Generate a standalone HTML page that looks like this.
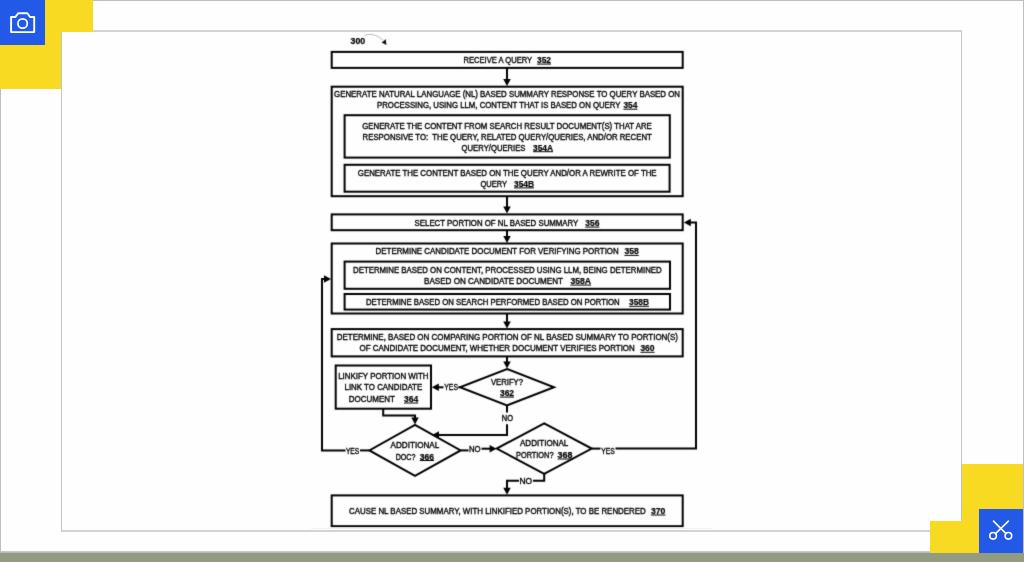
<!DOCTYPE html>
<html><head><meta charset="utf-8"><title>Flowchart</title>
<style>
html,body{margin:0;padding:0;}
body{width:1024px;height:562px;overflow:hidden;position:relative;background:#fefefe;font-family:"Liberation Sans",sans-serif;}
.abs{position:absolute;}
#outer{position:absolute;left:0;top:0;width:1022px;height:550px;border:1px solid #bebebe;border-bottom:1px solid #c9c9c9;background:#fefefe;}
#inner{position:absolute;left:61px;top:30px;width:899px;height:498px;border-style:solid;border-color:#d3d3d3 #c4c4c4;border-width:2px 1px;background:#fefefe;}
#band{position:absolute;left:0;top:553px;width:1024px;height:9px;background:#929c80;}
</style></head>
<body>
<div id="outer"></div>
<div class="abs" style="left:0;top:552px;width:1024px;height:1px;background:#b3b8cc"></div>
<div id="inner"></div>
<div class="abs" style="left:0;top:0;width:93px;height:32px;background:#f9da22"></div>
<div class="abs" style="left:0;top:0;width:61px;height:88.5px;background:#f9da22"></div>
<div class="abs" style="left:0;top:0;width:45px;height:45px;background:#2259e6"></div>
<svg width="45" height="45" viewBox="0 0 45 45" style="position:absolute;left:0;top:0">
<path d="M11.1,17 H15.4 L18.2,13.2 H27.4 L30.0,17 H34.2 V32.1 H11.1 Z" fill="none" stroke="#fff" stroke-width="1.9" stroke-linejoin="round"/>
<circle cx="22.6" cy="23.5" r="4.7" fill="none" stroke="#fff" stroke-width="1.7"/>
</svg>
<div class="abs" style="left:962px;top:464px;width:61px;height:89px;background:#f9da22"></div>
<div class="abs" style="left:930px;top:521px;width:49px;height:32px;background:#f9da22"></div>
<div class="abs" style="left:979px;top:509px;width:44px;height:44px;background:#2259e6"></div>
<svg width="44" height="44" viewBox="0 0 44 44" style="position:absolute;left:979px;top:509px">
<line x1="14.5" y1="12.1" x2="27.0" y2="24.6" stroke="#fff" stroke-width="1.5" stroke-linecap="round"/>
<line x1="29.4" y1="12.1" x2="16.5" y2="24.6" stroke="#fff" stroke-width="1.5" stroke-linecap="round"/>
<circle cx="14.1" cy="26.8" r="3.3" fill="none" stroke="#fff" stroke-width="1.6"/>
<circle cx="29.4" cy="26.8" r="3.3" fill="none" stroke="#fff" stroke-width="1.6"/>
</svg>
<div id="band"></div>
<div class="abs" style="left:0;top:0;width:1024px;height:562px;filter:grayscale(1)">
<svg width="1024" height="562" viewBox="0 0 1024 562" font-family="'Liberation Sans', sans-serif" fill="#000" style="display:block"><defs><filter id="bl" x="0" y="0" width="1024" height="562" filterUnits="userSpaceOnUse"><feConvolveMatrix order="3" kernelMatrix="0.02 0.08 0.02 0.08 0.60 0.08 0.02 0.08 0.02" divisor="1" edgeMode="none"/></filter></defs><g filter="url(#bl)">
<rect x="331.70" y="51.90" width="351.00" height="16.00" fill="none" stroke="#000" stroke-width="2.0"/>
<rect x="331.70" y="86.70" width="351.00" height="109.50" fill="none" stroke="#000" stroke-width="2.0"/>
<rect x="344.60" y="115.20" width="325.20" height="42.40" fill="none" stroke="#000" stroke-width="2.0"/>
<rect x="344.60" y="164.80" width="325.00" height="26.90" fill="none" stroke="#000" stroke-width="2.0"/>
<rect x="331.70" y="214.40" width="351.00" height="15.80" fill="none" stroke="#000" stroke-width="2.0"/>
<rect x="331.70" y="243.50" width="351.00" height="70.00" fill="none" stroke="#000" stroke-width="2.0"/>
<rect x="344.60" y="261.60" width="325.40" height="27.20" fill="none" stroke="#000" stroke-width="2.0"/>
<rect x="344.60" y="294.00" width="325.40" height="15.60" fill="none" stroke="#000" stroke-width="2.0"/>
<rect x="331.70" y="329.10" width="351.00" height="27.30" fill="none" stroke="#000" stroke-width="2.0"/>
<rect x="335.70" y="365.50" width="95.30" height="43.20" fill="none" stroke="#000" stroke-width="2.0"/>
<rect x="331.70" y="495.40" width="351.00" height="30.80" fill="none" stroke="#000" stroke-width="2.0"/>
<polygon points="507.00,369.00 554.00,387.20 507.00,405.40 460.00,387.20" fill="none" stroke="#000" stroke-width="2.0" stroke-linejoin="miter"/>
<polygon points="415.00,424.90 460.60,450.40 415.00,475.90 369.40,450.40" fill="none" stroke="#000" stroke-width="2.0" stroke-linejoin="miter"/>
<polygon points="544.20,423.30 591.70,448.60 544.20,473.90 496.70,448.60" fill="none" stroke="#000" stroke-width="2.0" stroke-linejoin="miter"/>
<polyline points="507.00,67.80 507.00,81.70" fill="none" stroke="#000" stroke-width="2.0" stroke-linejoin="miter"/>
<polygon points="507.00,86.10 503.25,79.10 510.75,79.10" fill="#000"/>
<polyline points="507.00,196.20 507.00,209.00" fill="none" stroke="#000" stroke-width="2.0" stroke-linejoin="miter"/>
<polygon points="507.00,213.40 503.25,206.40 510.75,206.40" fill="#000"/>
<polyline points="507.00,229.90 507.00,238.50" fill="none" stroke="#000" stroke-width="2.0" stroke-linejoin="miter"/>
<polygon points="507.00,242.90 503.25,235.90 510.75,235.90" fill="#000"/>
<polyline points="507.00,313.50 507.00,324.10" fill="none" stroke="#000" stroke-width="2.0" stroke-linejoin="miter"/>
<polygon points="507.00,328.50 503.25,321.50 510.75,321.50" fill="#000"/>
<polyline points="507.00,356.40 507.00,364.00" fill="none" stroke="#000" stroke-width="2.0" stroke-linejoin="miter"/>
<polygon points="507.00,368.40 503.25,361.40 510.75,361.40" fill="#000"/>
<polyline points="459.90,387.30 458.50,387.30" fill="none" stroke="#000" stroke-width="2.0" stroke-linejoin="miter"/>
<polyline points="443.50,387.30 436.00,387.30" fill="none" stroke="#000" stroke-width="2.0" stroke-linejoin="miter"/>
<polygon points="431.80,387.30 438.80,383.55 438.80,391.05" fill="#000"/>
<polyline points="507.00,405.40 507.00,412.50" fill="none" stroke="#000" stroke-width="2.0" stroke-linejoin="miter"/>
<polyline points="507.00,424.30 507.00,435.00 437.00,435.00" fill="none" stroke="#000" stroke-width="2.0" stroke-linejoin="miter"/>
<polygon points="432.00,435.00 439.00,431.25 439.00,438.75" fill="#000"/>
<polyline points="383.20,408.70 383.20,415.40 415.00,415.40 415.00,420.00" fill="none" stroke="#000" stroke-width="2.0" stroke-linejoin="miter"/>
<polygon points="415.00,424.60 411.25,417.60 418.75,417.60" fill="#000"/>
<polyline points="369.40,450.40 360.00,450.40" fill="none" stroke="#000" stroke-width="2.0" stroke-linejoin="miter"/>
<polyline points="345.50,450.40 322.00,450.40 322.00,279.00 326.00,279.00" fill="none" stroke="#000" stroke-width="2.0" stroke-linejoin="miter"/>
<polygon points="331.00,279.00 324.00,275.25 324.00,282.75" fill="#000"/>
<polyline points="460.60,450.40 468.50,450.40" fill="none" stroke="#000" stroke-width="2.0" stroke-linejoin="miter"/>
<polyline points="481.50,448.70 491.00,448.70" fill="none" stroke="#000" stroke-width="2.0" stroke-linejoin="miter"/>
<polygon points="496.60,448.70 489.60,444.95 489.60,452.45" fill="#000"/>
<polyline points="591.70,448.60 600.50,448.60" fill="none" stroke="#000" stroke-width="2.0" stroke-linejoin="miter"/>
<polyline points="615.50,448.60 696.00,448.60 696.00,222.50 689.00,222.50" fill="none" stroke="#000" stroke-width="2.0" stroke-linejoin="miter"/>
<polygon points="683.80,222.50 690.80,218.75 690.80,226.25" fill="#000"/>
<polyline points="544.20,473.90 544.20,480.70 533.00,480.70" fill="none" stroke="#000" stroke-width="2.0" stroke-linejoin="miter"/>
<polyline points="519.00,480.70 507.00,480.70 507.00,489.00" fill="none" stroke="#000" stroke-width="2.0" stroke-linejoin="miter"/>
<polygon points="507.00,494.80 503.25,487.80 510.75,487.80" fill="#000"/>
<text xml:space="preserve" stroke="#000" stroke-width="0.4" x="463.40" y="63.10" textLength="68.80" lengthAdjust="spacingAndGlyphs" font-weight="normal" font-size="9.3">RECEIVE A QUERY</text>
<text xml:space="preserve" stroke="#000" stroke-width="0.25" x="537.00" y="63.10" textLength="14.00" lengthAdjust="spacingAndGlyphs" font-weight="bold" font-size="9.3">352</text>
<line x1="537.00" y1="64.10" x2="551.00" y2="64.10" stroke="#000" stroke-width="1.0"/>
<text xml:space="preserve" stroke="#000" stroke-width="0.4" x="334.10" y="97.20" textLength="345.90" lengthAdjust="spacingAndGlyphs" font-weight="normal" font-size="9.3">GENERATE NATURAL LANGUAGE (NL) BASED SUMMARY RESPONSE TO QUERY BASED ON</text>
<text xml:space="preserve" stroke="#000" stroke-width="0.4" x="377.00" y="108.20" textLength="243.50" lengthAdjust="spacingAndGlyphs" font-weight="normal" font-size="9.3">PROCESSING, USING LLM, CONTENT THAT IS BASED ON QUERY</text>
<text xml:space="preserve" stroke="#000" stroke-width="0.25" x="623.40" y="108.20" textLength="14.00" lengthAdjust="spacingAndGlyphs" font-weight="bold" font-size="9.3">354</text>
<line x1="623.40" y1="109.20" x2="637.40" y2="109.20" stroke="#000" stroke-width="1.0"/>
<text xml:space="preserve" stroke="#000" stroke-width="0.4" x="362.20" y="128.50" textLength="289.60" lengthAdjust="spacingAndGlyphs" font-weight="normal" font-size="9.3">GENERATE THE CONTENT FROM SEARCH RESULT DOCUMENT(S) THAT ARE</text>
<text xml:space="preserve" stroke="#000" stroke-width="0.4" x="362.60" y="139.70" textLength="289.20" lengthAdjust="spacingAndGlyphs" font-weight="normal" font-size="9.3">RESPONSIVE TO:  THE QUERY, RELATED QUERY/QUERIES, AND/OR RECENT</text>
<text xml:space="preserve" stroke="#000" stroke-width="0.4" x="461.60" y="150.70" textLength="63.90" lengthAdjust="spacingAndGlyphs" font-weight="normal" font-size="9.3">QUERY/QUERIES</text>
<text xml:space="preserve" stroke="#000" stroke-width="0.25" x="533.00" y="150.70" textLength="20.00" lengthAdjust="spacingAndGlyphs" font-weight="bold" font-size="9.3">354A</text>
<line x1="533.00" y1="151.70" x2="553.00" y2="151.70" stroke="#000" stroke-width="1.0"/>
<text xml:space="preserve" stroke="#000" stroke-width="0.4" x="357.80" y="175.70" textLength="298.80" lengthAdjust="spacingAndGlyphs" font-weight="normal" font-size="9.3">GENERATE THE CONTENT BASED ON THE QUERY AND/OR A REWRITE OF THE</text>
<text xml:space="preserve" stroke="#000" stroke-width="0.4" x="480.40" y="186.90" textLength="26.60" lengthAdjust="spacingAndGlyphs" font-weight="normal" font-size="9.3">QUERY</text>
<text xml:space="preserve" stroke="#000" stroke-width="0.25" x="514.00" y="186.90" textLength="20.10" lengthAdjust="spacingAndGlyphs" font-weight="bold" font-size="9.3">354B</text>
<line x1="514.00" y1="187.90" x2="534.10" y2="187.90" stroke="#000" stroke-width="1.0"/>
<text xml:space="preserve" stroke="#000" stroke-width="0.4" x="414.60" y="226.10" textLength="163.70" lengthAdjust="spacingAndGlyphs" font-weight="normal" font-size="9.3">SELECT PORTION OF NL BASED SUMMARY</text>
<text xml:space="preserve" stroke="#000" stroke-width="0.25" x="585.20" y="226.10" textLength="14.20" lengthAdjust="spacingAndGlyphs" font-weight="bold" font-size="9.3">356</text>
<line x1="585.20" y1="227.10" x2="599.40" y2="227.10" stroke="#000" stroke-width="1.0"/>
<text xml:space="preserve" stroke="#000" stroke-width="0.4" x="375.60" y="254.40" textLength="243.10" lengthAdjust="spacingAndGlyphs" font-weight="normal" font-size="9.3">DETERMINE CANDIDATE DOCUMENT FOR VERIFYING PORTION</text>
<text xml:space="preserve" stroke="#000" stroke-width="0.25" x="624.40" y="254.40" textLength="14.40" lengthAdjust="spacingAndGlyphs" font-weight="bold" font-size="9.3">358</text>
<line x1="624.40" y1="255.40" x2="638.80" y2="255.40" stroke="#000" stroke-width="1.0"/>
<text xml:space="preserve" stroke="#000" stroke-width="0.4" x="353.00" y="272.70" textLength="308.70" lengthAdjust="spacingAndGlyphs" font-weight="normal" font-size="9.3">DETERMINE BASED ON CONTENT, PROCESSED USING LLM, BEING DETERMINED</text>
<text xml:space="preserve" stroke="#000" stroke-width="0.4" x="424.00" y="284.10" textLength="139.00" lengthAdjust="spacingAndGlyphs" font-weight="normal" font-size="9.3">BASED ON CANDIDATE DOCUMENT</text>
<text xml:space="preserve" stroke="#000" stroke-width="0.25" x="570.40" y="284.10" textLength="20.60" lengthAdjust="spacingAndGlyphs" font-weight="bold" font-size="9.3">358A</text>
<line x1="570.40" y1="285.10" x2="591.00" y2="285.10" stroke="#000" stroke-width="1.0"/>
<text xml:space="preserve" stroke="#000" stroke-width="0.4" x="365.90" y="305.30" textLength="253.80" lengthAdjust="spacingAndGlyphs" font-weight="normal" font-size="9.3">DETERMINE BASED ON SEARCH PERFORMED BASED ON PORTION</text>
<text xml:space="preserve" stroke="#000" stroke-width="0.25" x="629.00" y="305.30" textLength="20.00" lengthAdjust="spacingAndGlyphs" font-weight="bold" font-size="9.3">358B</text>
<line x1="629.00" y1="306.30" x2="649.00" y2="306.30" stroke="#000" stroke-width="1.0"/>
<text xml:space="preserve" stroke="#000" stroke-width="0.4" x="336.70" y="340.00" textLength="341.30" lengthAdjust="spacingAndGlyphs" font-weight="normal" font-size="9.3">DETERMINE, BASED ON COMPARING PORTION OF NL BASED SUMMARY TO PORTION(S)</text>
<text xml:space="preserve" stroke="#000" stroke-width="0.4" x="359.50" y="351.30" textLength="275.30" lengthAdjust="spacingAndGlyphs" font-weight="normal" font-size="9.3">OF CANDIDATE DOCUMENT, WHETHER DOCUMENT VERIFIES PORTION</text>
<text xml:space="preserve" stroke="#000" stroke-width="0.25" x="640.40" y="351.30" textLength="14.20" lengthAdjust="spacingAndGlyphs" font-weight="bold" font-size="9.3">360</text>
<line x1="640.40" y1="352.30" x2="654.60" y2="352.30" stroke="#000" stroke-width="1.0"/>
<text xml:space="preserve" stroke="#000" stroke-width="0.4" x="338.20" y="379.10" textLength="90.40" lengthAdjust="spacingAndGlyphs" font-weight="normal" font-size="9.3">LINKIFY PORTION WITH</text>
<text xml:space="preserve" stroke="#000" stroke-width="0.4" x="344.50" y="390.40" textLength="77.70" lengthAdjust="spacingAndGlyphs" font-weight="normal" font-size="9.3">LINK TO CANDIDATE</text>
<text xml:space="preserve" stroke="#000" stroke-width="0.4" x="348.80" y="402.00" textLength="46.20" lengthAdjust="spacingAndGlyphs" font-weight="normal" font-size="9.3">DOCUMENT</text>
<text xml:space="preserve" stroke="#000" stroke-width="0.25" x="404.00" y="402.00" textLength="14.20" lengthAdjust="spacingAndGlyphs" font-weight="bold" font-size="9.3">364</text>
<line x1="404.00" y1="403.00" x2="418.20" y2="403.00" stroke="#000" stroke-width="1.0"/>
<text xml:space="preserve" stroke="#000" stroke-width="0.4" x="491.00" y="384.90" textLength="32.00" lengthAdjust="spacingAndGlyphs" font-weight="normal" font-size="9.3">VERIFY?</text>
<text xml:space="preserve" stroke="#000" stroke-width="0.25" x="500.00" y="396.10" textLength="14.00" lengthAdjust="spacingAndGlyphs" font-weight="bold" font-size="9.3">362</text>
<line x1="500.00" y1="397.10" x2="514.00" y2="397.10" stroke="#000" stroke-width="1.0"/>
<text xml:space="preserve" stroke="#000" stroke-width="0.4" x="390.60" y="447.60" textLength="48.60" lengthAdjust="spacingAndGlyphs" font-weight="normal" font-size="9.3">ADDITIONAL</text>
<text xml:space="preserve" stroke="#000" stroke-width="0.4" x="395.70" y="459.50" textLength="19.80" lengthAdjust="spacingAndGlyphs" font-weight="normal" font-size="9.3">DOC?</text>
<text xml:space="preserve" stroke="#000" stroke-width="0.25" x="419.80" y="459.50" textLength="14.20" lengthAdjust="spacingAndGlyphs" font-weight="bold" font-size="9.3">366</text>
<line x1="419.80" y1="460.50" x2="434.00" y2="460.50" stroke="#000" stroke-width="1.0"/>
<text xml:space="preserve" stroke="#000" stroke-width="0.4" x="520.00" y="446.00" textLength="48.30" lengthAdjust="spacingAndGlyphs" font-weight="normal" font-size="9.3">ADDITIONAL</text>
<text xml:space="preserve" stroke="#000" stroke-width="0.4" x="516.00" y="458.00" textLength="37.50" lengthAdjust="spacingAndGlyphs" font-weight="normal" font-size="9.3">PORTION?</text>
<text xml:space="preserve" stroke="#000" stroke-width="0.25" x="557.60" y="458.00" textLength="14.90" lengthAdjust="spacingAndGlyphs" font-weight="bold" font-size="9.3">368</text>
<line x1="557.60" y1="459.00" x2="572.50" y2="459.00" stroke="#000" stroke-width="1.0"/>
<text xml:space="preserve" stroke="#000" stroke-width="0.4" x="349.00" y="514.00" textLength="296.70" lengthAdjust="spacingAndGlyphs" font-weight="normal" font-size="9.3">CAUSE NL BASED SUMMARY, WITH LINKIFIED PORTION(S), TO BE RENDERED</text>
<text xml:space="preserve" stroke="#000" stroke-width="0.25" x="650.90" y="514.00" textLength="14.50" lengthAdjust="spacingAndGlyphs" font-weight="bold" font-size="9.3">370</text>
<line x1="650.90" y1="515.00" x2="665.40" y2="515.00" stroke="#000" stroke-width="1.0"/>
<text xml:space="preserve" stroke="#000" stroke-width="0.4" x="444.30" y="389.60" textLength="13.70" lengthAdjust="spacingAndGlyphs" font-weight="normal" font-size="9.3">YES</text>
<text xml:space="preserve" stroke="#000" stroke-width="0.4" x="501.80" y="421.20" textLength="11.20" lengthAdjust="spacingAndGlyphs" font-weight="normal" font-size="9.3">NO</text>
<text xml:space="preserve" stroke="#000" stroke-width="0.4" x="345.90" y="453.50" textLength="13.30" lengthAdjust="spacingAndGlyphs" font-weight="normal" font-size="9.3">YES</text>
<text xml:space="preserve" stroke="#000" stroke-width="0.4" x="469.00" y="451.70" textLength="11.60" lengthAdjust="spacingAndGlyphs" font-weight="normal" font-size="9.3">NO</text>
<text xml:space="preserve" stroke="#000" stroke-width="0.4" x="601.30" y="453.60" textLength="13.50" lengthAdjust="spacingAndGlyphs" font-weight="normal" font-size="9.3">YES</text>
<text xml:space="preserve" stroke="#000" stroke-width="0.4" x="519.50" y="483.60" textLength="12.70" lengthAdjust="spacingAndGlyphs" font-weight="normal" font-size="9.3">NO</text>
<line x1="311" y1="528.5" x2="712" y2="528.5" stroke="#eeeeee" stroke-width="1"/>
<text xml:space="preserve" stroke="#000" stroke-width="0.25" x="350.50" y="44.40" textLength="14.70" lengthAdjust="spacingAndGlyphs" font-weight="bold" font-size="9.3">300</text>
<path d="M364.6,35.8 C368,33.6 376,33.2 383.3,40.6" fill="none" stroke="#aaa" stroke-width="0.8"/>
<polygon points="386.4,45.0 381.6,42.4 385.8,39.2" fill="#111"/>
</g></svg></div>
</body></html>
